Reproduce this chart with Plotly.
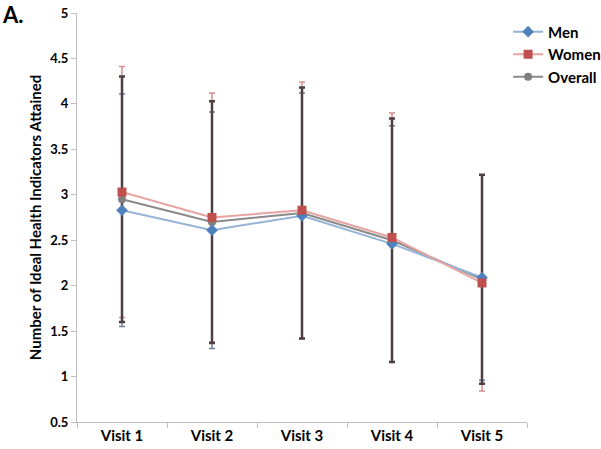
import plotly.graph_objects as go

visits = ["Visit 1", "Visit 2", "Visit 3", "Visit 4", "Visit 5"]
men = [2.83, 2.61, 2.77, 2.46, 2.09]
women = [3.03, 2.75, 2.83, 2.53, 2.03]
overall = [2.95, 2.70, 2.80, 2.50, 2.07]
men_sd = [1.28, 1.30, 1.35, 1.30, 1.13]
women_sd = [1.38, 1.37, 1.41, 1.37, 1.19]
overall_sd = [1.35, 1.33, 1.38, 1.34, 1.15]
y_ticks = [0.5, 1, 1.5, 2, 2.5, 3, 3.5, 4, 4.5, 5]

FONT = "Lato"
fig = go.Figure()

# error bars first (drawn beneath the lines)
for vals, sd, col, th in [(men, men_sd, "#6f7f98", 1.5),
                          (women, women_sd, "#d98a8a", 1.5),
                          (overall, overall_sd, "#4e3f44", 2.5)]:
    fig.add_trace(go.Scatter(
        x=visits, y=vals, mode="markers", showlegend=False, hoverinfo="skip",
        marker=dict(color="rgba(0,0,0,0)", size=1),
        error_y=dict(type="data", array=sd, visible=True, color=col,
                     thickness=th, width=3)))

fig.add_trace(go.Scatter(
    x=visits, y=overall, name="Overall", mode="lines+markers", legendrank=3,
    line=dict(color="#8a8a8a", width=2),
    marker=dict(symbol="circle", size=8, color="#7f7f7f")))
fig.add_trace(go.Scatter(
    x=visits, y=men, name="Men", mode="lines+markers", legendrank=1,
    line=dict(color="#95b3d7", width=2),
    marker=dict(symbol="diamond", size=9, color="#4f81bd")))
fig.add_trace(go.Scatter(
    x=visits, y=women, name="Women", mode="lines+markers", legendrank=2,
    line=dict(color="#e6a3a1", width=2),
    marker=dict(symbol="square", size=9, color="#c0504d")))

fig.update_layout(
    width=601, height=449,
    margin=dict(l=77, r=74, t=12.5, b=27, autoexpand=False),
    paper_bgcolor="white", plot_bgcolor="white",
    font=dict(family=FONT, color="#000000"),
    legend=dict(x=0.958, xanchor="left", y=0.994, yanchor="top",
                font=dict(family=FONT, size=15, color="#000000", weight="bold"),
                tracegroupgap=0, itemwidth=30, bgcolor="rgba(0,0,0,0)"),
    xaxis=dict(type="category", range=[-0.5, 4.5], tickson="boundaries",
               ticks="outside", ticklen=5, tickcolor="#bfbfbf",
               showline=True, linecolor="#bfbfbf", linewidth=1,
               showgrid=False, zeroline=False,
               tickfont=dict(family=FONT, size=15, weight="bold")),
    yaxis=dict(range=[0.5, 5], tickvals=y_ticks,
               ticktext=[str(v) for v in y_ticks],
               ticks="outside", ticklen=5, tickcolor="#bfbfbf",
               showline=True, linecolor="#bfbfbf", linewidth=1,
               showgrid=False, zeroline=False,
               tickfont=dict(family=FONT, size=13, weight="bold"),
               title=dict(text="Number of Ideal Health Indicators Attained",
                          font=dict(family=FONT, size=15, weight="bold"),
                          standoff=4)),
    annotations=[dict(text="<b>A.</b>", x=-77 / 450, y=1 + 14.5 / 409.5,
                      xref="paper", yref="paper",
                      xanchor="left", yanchor="top", showarrow=False,
                      font=dict(family=FONT, size=22, color="#000000"))]
)

fig.write_html("out.html", config={"displayModeBar": False},
               post_script="document.body.style.margin='0';")
